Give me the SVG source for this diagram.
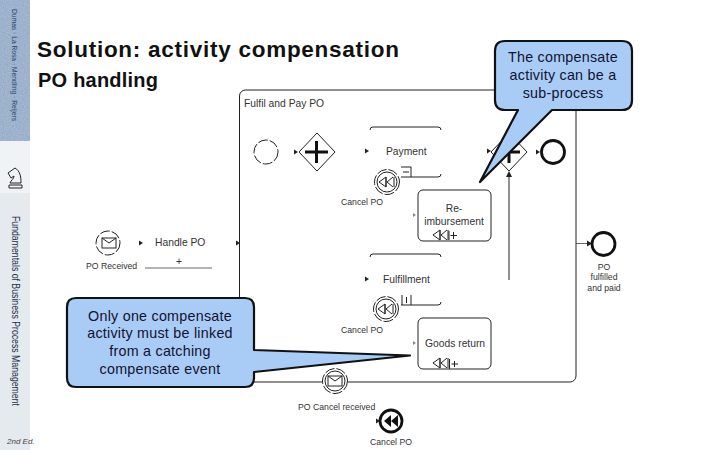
<svg xmlns="http://www.w3.org/2000/svg" width="720" height="450" viewBox="0 0 720 450">
<style>
text{font-family:"Liberation Sans",Arial,sans-serif;fill:#222}
.t{font-size:10.3px;fill:#333}
.s{font-size:8.7px;fill:#333}
.c{font-size:14.3px;text-anchor:middle;fill:#12122e;letter-spacing:.25px}
.h{font-weight:700;fill:#111}
.l{fill:none;stroke:#222;stroke-width:1}
.e{fill:#fff;stroke:#222;stroke-width:1}
.d{stroke-dasharray:10 2}
.b{fill:#a9ccf7;stroke:#111;stroke-width:2.2;stroke-linejoin:round}
.a{fill:#222}
.f{fill:#888}
.x{stroke:#111;stroke-width:3;fill:none}
.r{fill:#fff;stroke:#111;stroke-width:2.8}
</style>
<defs>
<path id="ah" class="a" d="M-4-2.500L0 0L-4 2.500Z"/>
<path id="fh" class="f" d="M-3-2L0 0L-3 2Z"/>
<path id="comp" d="M-1-5L-8 0L-1 5ZM0 0L6-5M0 0L6 5M-1-5V5M7-5V5" fill="none" stroke="#222" stroke-width="1"/>
<filter id="noise" x="0" y="0" width="100%" height="100%">
<feTurbulence type="fractalNoise" baseFrequency=".9" numOctaves="2" seed="4"/>
<feColorMatrix values="0 0 0 0 .55 0 0 0 0 .64 0 0 0 0 .76 .9 0 0 0 -.05"/>
</filter>
</defs>
<g id="sidebar">
<rect x="0" y="0" width="30" height="141" fill="#8ca4c2"/>
<rect x="0" y="0" width="30" height="141" filter="url(#noise)" opacity=".8"/>
<rect x="0" y="141" width="30" height="52" fill="#f0f3f6"/>
<rect x="0" y="193" width="30" height="257" fill="#e5eaee"/>
<text transform="translate(12,9) rotate(90)" font-size="7.500" style="fill:#23466e" textLength="112" lengthAdjust="spacingAndGlyphs">Dumas · La Rosa · Mendling · Reijers</text>
<text transform="translate(12,216) rotate(90) scale(1,1.25)" font-size="9" style="fill:#26324a" textLength="190" lengthAdjust="spacingAndGlyphs">Fundamentals of Business Process Management</text>
<text x="7" y="444" font-size="8" font-style="italic" style="fill:#444">2nd Ed.</text>
<path d="M9 188H22V185H9ZM10 183H21C21 176 20 171 15 168L8 173L11 178L14 176C14 179 11 180 10 183Z" fill="#f0f3f6" stroke="#222" stroke-width="1"/>
</g>
<g id="title">
<text class="h" x="37" y="57" font-size="22.500" textLength="362">Solution: activity compensation</text>
<text class="h" x="38" y="87" font-size="20" textLength="120">PO handling</text>
</g>
<g id="connectors">
<use href="#ah" x="240" y="243"/>
<use href="#ah" x="143" y="243"/>
<use href="#ah" x="298" y="152"/>
<use href="#ah" x="369" y="151"/>
<use href="#ah" x="491" y="151"/>
<use href="#ah" x="369" y="279"/>
<use href="#ah" x="540" y="152"/>
<use href="#fh" x="416" y="215"/>
<use href="#fh" x="416" y="343"/>
<use href="#ah" x="380" y="421"/>
<path class="l" d="M509 280V173"/>
<path class="a" d="M506 177L509 171L512 177Z"/>
<path d="M576 243.500H590" stroke="#666" fill="none"/>
<path class="a" d="M587 240.500L592 243.500L587 246.500Z"/>
</g>
<g id="fulfil-pay-po">
<rect x="239.500" y="90" width="336.500" height="292" rx="6" class="l"/>
<text class="t" x="244" y="107">Fulfil and Pay PO</text>
</g>
<g id="start">
<circle cx="266" cy="152" r="12" class="e d"/>
</g>
<g id="split">
<path d="M317 133L335 152L317 171L299 152Z" class="e"/>
<path class="x" d="M316.500 141V163M305 152H328"/>
</g>
<g id="payment">
<path class="l" d="M370 130Q370 127 373 127H438Q441 127 441 130M401 177H438Q441 177 441 174"/>
<path class="l" stroke="#888" d="M401 167H411V177M403 172H409"/>
<text class="t" x="386" y="155">Payment</text>
</g>
<g id="cancel-po-1">
<circle cx="387" cy="182" r="12.500" class="e d"/>
<circle cx="387" cy="182" r="10" class="e"/>
<use href="#comp" x="387" y="182"/>
<text class="s" x="341" y="205">Cancel PO</text>
</g>
<g id="reimbursement">
<rect x="418" y="190" width="73" height="51" rx="5" class="e"/>
<text class="t" text-anchor="middle" x="454" y="212">Re-</text>
<text class="t" text-anchor="middle" x="454" y="225">imbursement</text>
<use href="#comp" x="441" y="235"/>
<path class="l" d="M449 231V240M453.500 232V239M450.500 235.500H457"/>
</g>
<g id="handle-po">
<text class="t" x="155" y="246">Handle PO</text>
<path d="M145 268H212" stroke="#666" fill="none"/>
<text class="t" x="176" y="265">+</text>
</g>
<g id="po-received">
<circle cx="108" cy="243" r="12" class="e d"/>
<rect x="102" y="238" width="14" height="10" class="l"/>
<path class="l" d="M102 238L109 243L116 238"/>
<text class="s" x="86" y="269">PO Received</text>
</g>
<g id="fulfillment">
<path class="l" d="M370 257Q370 254 373 254H438Q441 254 441 257M401 305H438Q441 305 441 302"/>
<path class="l" d="M402 295V305M411 295V305M406.500 297V303"/>
<text class="t" x="383" y="283">Fulfillment</text>
</g>
<g id="cancel-po-2">
<circle cx="386" cy="309" r="12.500" class="e d"/>
<circle cx="386" cy="309" r="10" class="e"/>
<use href="#comp" x="386" y="309"/>
<text class="s" x="341" y="333">Cancel PO</text>
</g>
<g id="goods-return">
<rect x="418" y="318" width="73" height="51" rx="5" class="e"/>
<text class="t" x="425" y="347">Goods return</text>
<use href="#comp" x="441" y="363"/>
<path class="l" d="M449.500 359V369M454.500 361V367M451.500 364H458"/>
</g>
<g id="po-cancel-received">
<circle cx="335" cy="381" r="12.500" class="e d"/>
<circle cx="335" cy="381" r="10" class="e"/>
<rect x="328" y="376" width="14" height="10" class="l"/>
<path class="l" d="M328 376L335 381L342 376"/>
<text class="s" x="298" y="410">PO Cancel received</text>
</g>
<g id="cancel-po-end">
<circle cx="391" cy="421" r="11" class="r"/>
<path d="M391 415L384 421L391 427ZM398 415L391 421L398 427Z" fill="#111"/>
<text class="s" x="370" y="445">Cancel PO</text>
</g>
<g id="end-1">
<circle cx="553" cy="152" r="11.500" class="r"/>
</g>
<g id="join">
<path d="M509 133L527 152L509 171L491 152Z" class="e"/>
<path class="x" d="M509 141V163M498 152H520"/>
</g>
<g id="end-2">
<circle cx="603.500" cy="244" r="11.500" class="r"/>
<text class="s" text-anchor="middle" x="604" y="270">PO</text>
<text class="s" text-anchor="middle" x="604" y="280">fulfilled</text>
<text class="s" text-anchor="middle" x="604" y="291">and paid</text>
</g>
<g id="callout-1">
<path class="b" d="M76 298H245Q254 298 254 307V350L410 355.500L254 372V378Q254 387 245 387H76Q67 387 67 378V307Q67 298 76 298Z"/>
<text class="c" x="160" y="321">Only one compensate</text>
<text class="c" x="160" y="338">activity must be linked</text>
<text class="c" x="160" y="356">from a catching</text>
<text class="c" x="160" y="374">compensate event</text>
</g>
<g id="callout-2">
<path class="b" d="M505 41H622Q632 41 632 51V100Q632 110 622 110H552L480 182L518 110H505Q495 110 495 100V51Q495 41 505 41Z"/>
<text class="c" x="563" y="62">The compensate</text>
<text class="c" x="563" y="80">activity can be a</text>
<text class="c" x="563" y="98">sub-process</text>
</g>
</svg>
